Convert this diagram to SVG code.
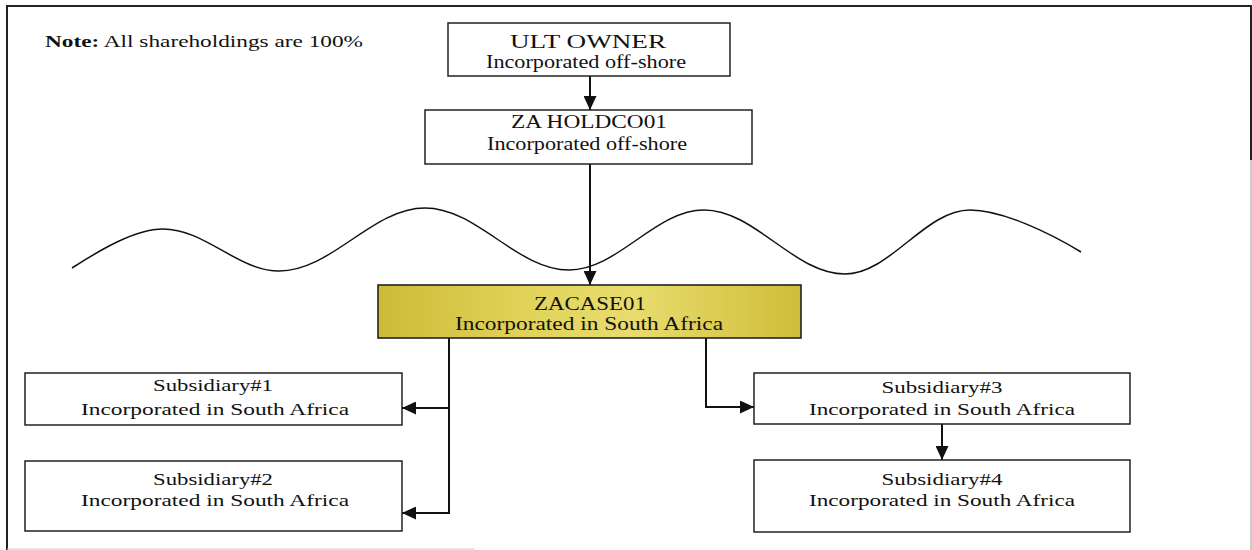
<svg xmlns="http://www.w3.org/2000/svg" width="1252" height="550" viewBox="0 0 1252 550">
  <defs>
    <marker id="arrow" viewBox="0 0 14 13" refX="14" refY="6.5" markerWidth="14" markerHeight="13" markerUnits="userSpaceOnUse" orient="auto">
      <path d="M0,0 L14,6.5 L0,13 Z" fill="#111"/>
    </marker>
    <linearGradient id="gold" x1="0" y1="0" x2="1" y2="0">
      <stop offset="0" stop-color="#cdbb36"/>
      <stop offset="0.35" stop-color="#e1d25a"/>
      <stop offset="0.6" stop-color="#e8dc6e"/>
      <stop offset="1" stop-color="#cfbd38"/>
    </linearGradient>
    <style>
      .box { fill: #fff; stroke: #222; stroke-width: 1.5; }
      .hl { fill: url(#gold); stroke: #222; stroke-width: 1.6; }
      .t { font-family: "Liberation Serif", "Times New Roman", serif; fill: #111; text-anchor: middle; }
      .big { font-size: 18px; }
      .sm { font-size: 16.5px; }
      .conn { fill: none; stroke: #111; stroke-width: 2; }
      .frame { fill: none; stroke: #222; stroke-width: 2; }
    </style>
  </defs>

  <rect width="1252" height="550" fill="#fff"/>

  <!-- page frame -->
  <g id="frame">
    <path class="frame" d="M7,550 V6 H1251 V160"/>
    <path d="M1251,160 V550" stroke="#bbb" stroke-width="1.5" fill="none"/>
    <path d="M7,549 H475" stroke="#ccc" stroke-width="1" fill="none"/>
  </g>

  <!-- note -->
  <g id="note">
    <text x="45" y="47" font-family="Liberation Serif, Times New Roman, serif" font-size="16.5" fill="#111" textLength="318" lengthAdjust="spacingAndGlyphs"><tspan font-weight="bold">Note:</tspan> All shareholdings are 100%</text>
  </g>

  <!-- border line between off-shore and South Africa -->
  <g id="border-wave">
    <path d="M72,268 C100,250 135,229 163,229 C205,229 238,271 279,271 C332,271 372,208 425,208 C477,208 517,270 569,270 C618,270 655,210 704,210 C755,210 794,274 845,274 C890,274 925,210 970,210 C1002,210 1050,233 1081,252" fill="none" stroke="#111" stroke-width="1.5"/>
  </g>

  <!-- connectors -->
  <g id="connectors">
    <path class="conn" d="M590,76 V110" marker-end="url(#arrow)"/>
    <path class="conn" d="M590,164 V285" marker-end="url(#arrow)"/>
    <path class="conn" d="M449,338 V408 H402" marker-end="url(#arrow)"/>
    <path class="conn" d="M449,408 V513 H402" marker-end="url(#arrow)"/>
    <path class="conn" d="M706,338 V407 H754" marker-end="url(#arrow)"/>
    <path class="conn" d="M942,424 V460" marker-end="url(#arrow)"/>
  </g>

  <g id="ult-owner">
    <rect class="box" x="448" y="23" width="282" height="53"/>
    <text class="t big" x="588" y="48" textLength="156" lengthAdjust="spacingAndGlyphs">ULT OWNER</text>
    <text class="t big" x="586" y="68" textLength="200" lengthAdjust="spacingAndGlyphs">Incorporated off-shore</text>
  </g>

  <g id="za-holdco01">
    <rect class="box" x="425" y="110" width="327" height="54"/>
    <text class="t big" x="589" y="128" textLength="156" lengthAdjust="spacingAndGlyphs">ZA HOLDCO01</text>
    <text class="t big" x="587" y="150" textLength="200" lengthAdjust="spacingAndGlyphs">Incorporated off-shore</text>
  </g>

  <g id="zacase01">
    <rect class="hl" x="378" y="285" width="423" height="53"/>
    <text class="t big" x="590" y="310" textLength="112" lengthAdjust="spacingAndGlyphs">ZACASE01</text>
    <text class="t big" x="589" y="330" textLength="268" lengthAdjust="spacingAndGlyphs">Incorporated in South Africa</text>
  </g>

  <g id="subsidiary-1">
    <rect class="box" x="25" y="373" width="377" height="52"/>
    <text class="t sm" x="213" y="391" textLength="120" lengthAdjust="spacingAndGlyphs">Subsidiary#1</text>
    <text class="t sm" x="215" y="415" textLength="268" lengthAdjust="spacingAndGlyphs">Incorporated in South Africa</text>
  </g>

  <g id="subsidiary-2">
    <rect class="box" x="25" y="461" width="377" height="70"/>
    <text class="t sm" x="213" y="485" textLength="120" lengthAdjust="spacingAndGlyphs">Subsidiary#2</text>
    <text class="t sm" x="215" y="506" textLength="268" lengthAdjust="spacingAndGlyphs">Incorporated in South Africa</text>
  </g>

  <g id="subsidiary-3">
    <rect class="box" x="754" y="373" width="376" height="51"/>
    <text class="t sm" x="942" y="393" textLength="121" lengthAdjust="spacingAndGlyphs">Subsidiary#3</text>
    <text class="t sm" x="942" y="415" textLength="266" lengthAdjust="spacingAndGlyphs">Incorporated in South Africa</text>
  </g>

  <g id="subsidiary-4">
    <rect class="box" x="754" y="460" width="376" height="72"/>
    <text class="t sm" x="942" y="485" textLength="121" lengthAdjust="spacingAndGlyphs">Subsidiary#4</text>
    <text class="t sm" x="942" y="506" textLength="266" lengthAdjust="spacingAndGlyphs">Incorporated in South Africa</text>
  </g>
</svg>
